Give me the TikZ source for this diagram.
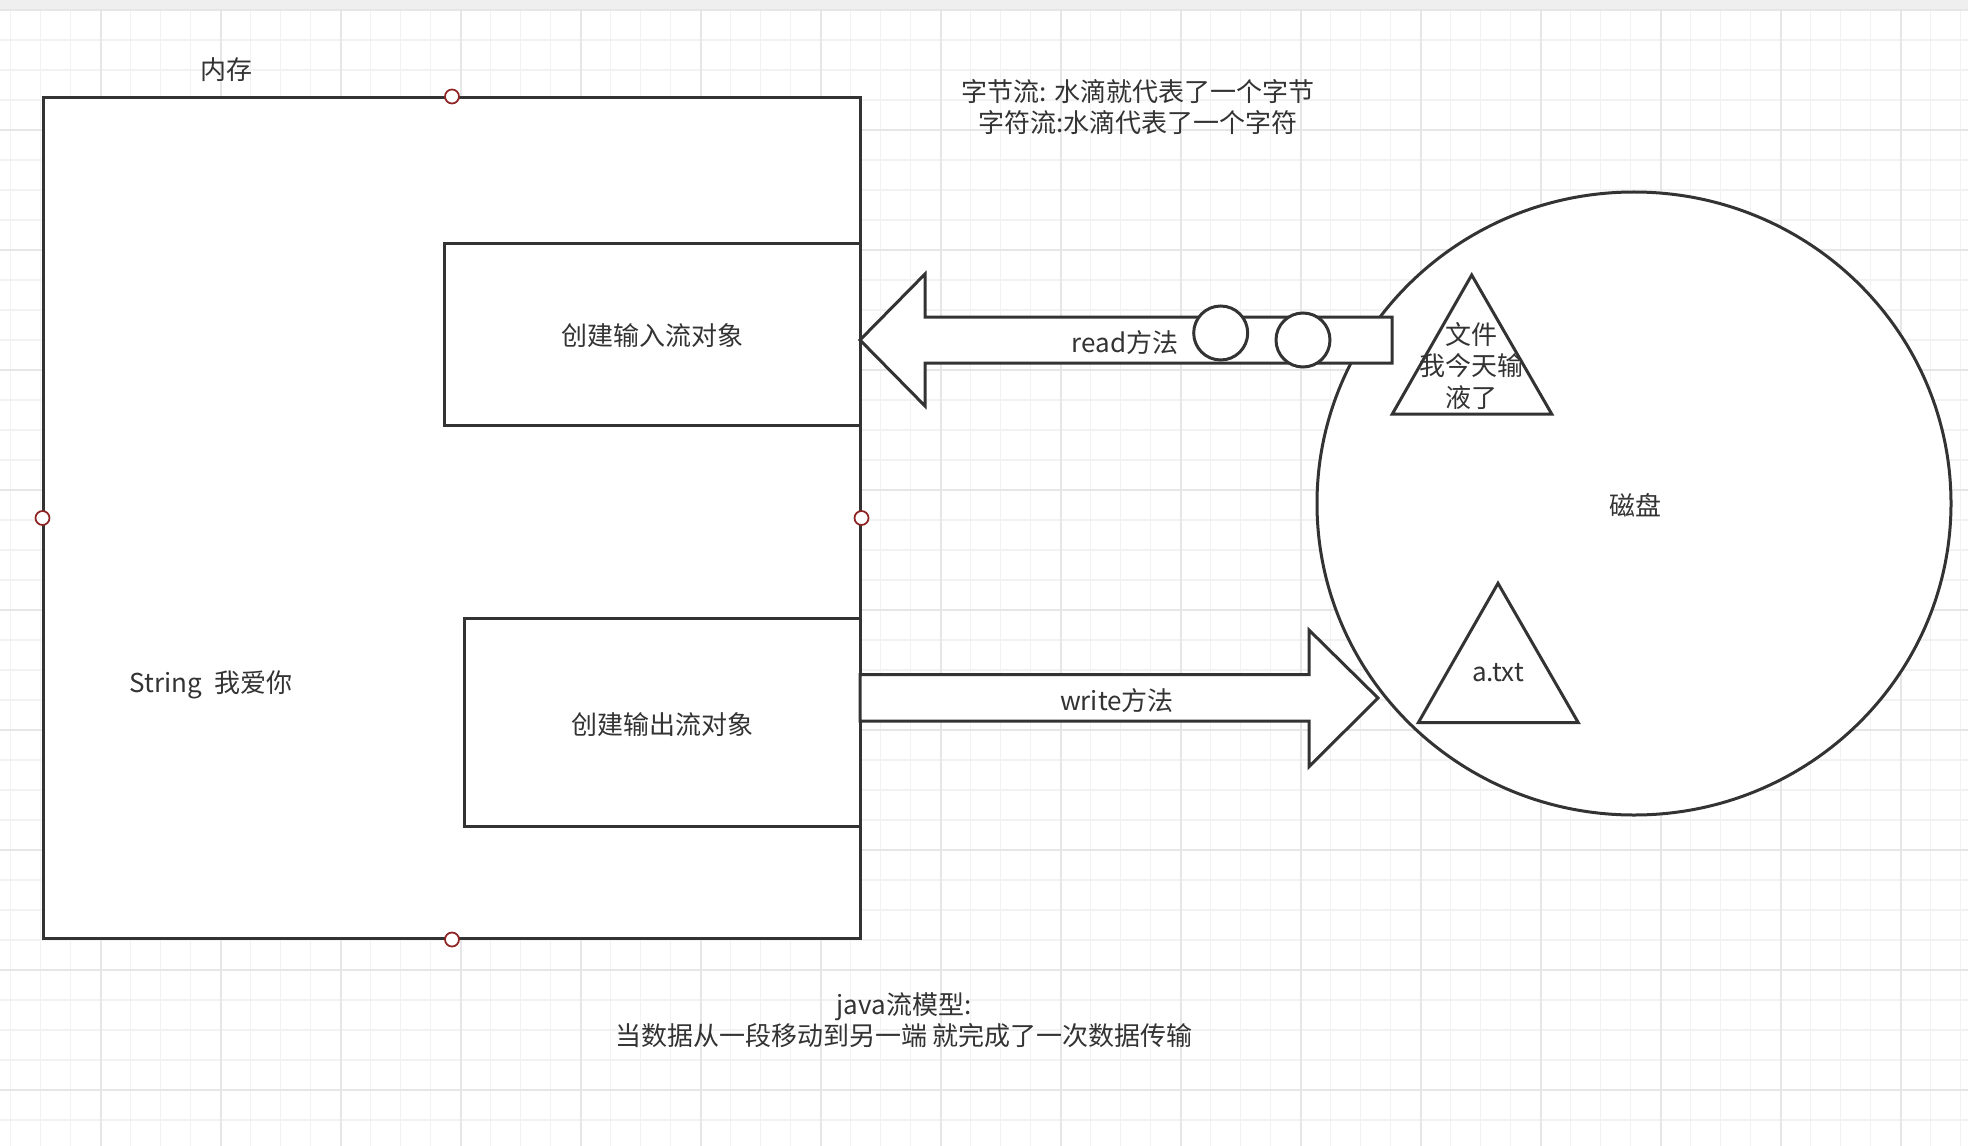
\documentclass[tikz,border=0pt]{standalone}
\usepackage{fontspec}
\setmainfont{Noto Sans CJK SC}
\usetikzlibrary{shapes.geometric}
\definecolor{ink}{HTML}{333333}
\definecolor{gridminor}{HTML}{F2F2F2}
\definecolor{gridmajor}{HTML}{E6E6E6}
\definecolor{bandgray}{HTML}{EFEFEF}
\definecolor{handle}{HTML}{8E2424}
\begin{document}
\begin{tikzpicture}[x=0.4pt,y=-0.4pt,
  shapeline/.style={draw=ink, line width=1.2pt, fill=white},
  txt/.style={text=ink, font=\fontsize{10.4pt}{12.6pt}\selectfont},
  lbl/.style={txt, align=center, inner sep=0pt},
  boxnode/.style={rectangle, shapeline, txt, inner sep=0pt},
  handlept/.style={circle, draw=handle, fill=white, line width=0.7pt, minimum size=5.6pt, inner sep=0pt},
  drop/.style={circle, shapeline, minimum size=21.6pt, inner sep=0pt}]
\useasboundingbox (0,0) rectangle (1968,1146);
\fill[white] (0,0) rectangle (1968,1146);
% grid
\foreach \gx in {10.7,40.7,...,1968} \draw[gridminor, line width=0.6pt] (\gx,0) -- (\gx,1146);
\foreach \gy in {10,40,...,1146} \draw[gridminor, line width=0.6pt] (0,\gy) -- (1968,\gy);
\foreach \gx in {100.7,220.7,...,1968} \draw[gridmajor, line width=0.7pt] (\gx,0) -- (\gx,1146);
\foreach \gy in {10,130,...,1146} \draw[gridmajor, line width=0.7pt] (0,\gy) -- (1968,\gy);
\fill[bandgray] (0,0) rectangle (1968,9);

% memory
\node[boxnode, minimum width=326.4pt, minimum height=336pt] (mem) at (452,518) {};
\node[lbl] (memlbl) at (226,70) {内存};
\node[boxnode, minimum width=166.4pt, minimum height=72.8pt] (inbox) at (652,334) {};
\node[lbl] (inlbl) at (652,336) {创建输入流对象};
\node[boxnode, minimum width=158.4pt, minimum height=83.2pt] (outbox) at (662,722) {};
\node[lbl] (outlbl) at (662,725) {创建输出流对象};
\node[lbl] (str) at (211,685) {String~~我爱你};
\node[handlept] (h1) at (mem.north) {};
\node[handlept] (h2) at (mem.south) {};
\node[handlept] (h3) at (mem.west) {};
\node[handlept] (h4) at (mem.east) {};

% disk
\node[ellipse, shapeline, inner sep=0pt, minimum width=253.6pt, minimum height=249.2pt] (disk) at (1634,503.5) {};
\node[lbl] (disklbl) at (1635,505.5) {磁盘};

% read arrow
\coordinate (readtip) at (860,340);
\draw[shapeline] (readtip) -- (925,274) -- (925,317) -- (1392,317) -- (1392,363) -- (925,363) -- (925,406) -- cycle;
\node[lbl] (readlbl) at (1125,343) {read方法};
\node[drop] (d1) at (1220.7,333) {};
\node[drop] (d2) at (1303,340) {};

% file triangle
\draw[shapeline] (1471.7,275) -- (1392.3,414) -- (1551.7,414) -- cycle;
\node[lbl] (filelbl) at (1471.7,366) {文件\\我今天输\\液了};

% write arrow
\coordinate (writetip) at (1378,698);
\draw[shapeline] (860,674.6) -- (1309,674.6) -- (1309,630) -- (writetip) -- (1309,766.7) -- (1309,721) -- (860,721) -- cycle;
\node[lbl] (writelbl) at (1117,700.5) {write方法};

% a.txt triangle
\draw[shapeline] (1498,583.3) -- (1418.3,722.7) -- (1578.3,722.7) -- cycle;
\node[lbl] (atxt) at (1498,673) {a.txt};

% notes
\node[lbl] (note1) at (1138,107) {字节流: 水滴就代表了一个字节\\字符流:水滴代表了一个字符};
\node[lbl] (note2) at (904,1020) {java流模型:\\当数据从一段移动到另一端 就完成了一次数据传输};
\end{tikzpicture}
\end{document}
